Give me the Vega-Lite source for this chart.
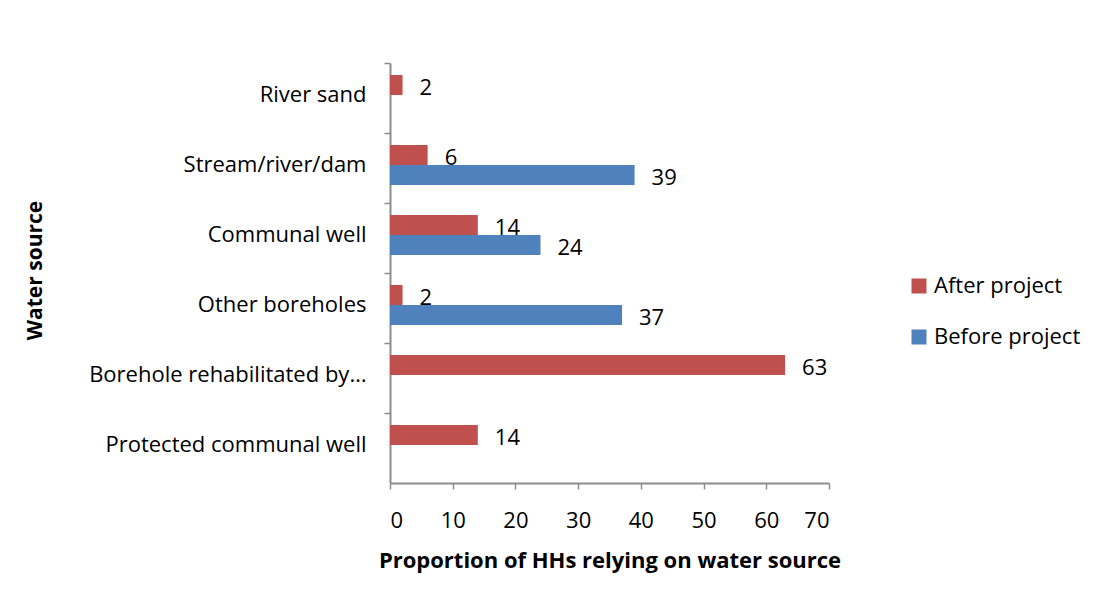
{
  "$schema": "https://vega.github.io/schema/vega-lite/v6.json",
  "autosize": {"type": "none"},
  "width": 439,
  "height": 420,
  "padding": {"left": 390, "top": 63, "right": 273, "bottom": 123},
  "background": "white",
  "config": {
    "font": "Open Sans",
    "view": {"stroke": null},
    "axis": {"labelFont": "Open Sans", "titleFont": "Open Sans", "labelColor": "black", "titleColor": "black", "domainColor": "#8c8c8c", "tickColor": "#8c8c8c", "grid": false, "labelLimit": 0}
  },
  "data": {
    "values": [
      {"source": "River sand", "period": "After project", "value": 2},
      {"source": "Stream/river/dam", "period": "After project", "value": 6},
      {"source": "Stream/river/dam", "period": "Before project", "value": 39},
      {"source": "Communal well", "period": "After project", "value": 14},
      {"source": "Communal well", "period": "Before project", "value": 24},
      {"source": "Other boreholes", "period": "After project", "value": 2},
      {"source": "Other boreholes", "period": "Before project", "value": 37},
      {"source": "Borehole rehabilitated by…", "period": "After project", "value": 63},
      {"source": "Protected communal well", "period": "After project", "value": 14}
    ]
  },
  "encoding": {
    "y": {
      "field": "source", "type": "nominal",
      "sort": ["River sand", "Stream/river/dam", "Communal well", "Other boreholes", "Borehole rehabilitated by…", "Protected communal well"],
      "scale": {"paddingInner": 0, "paddingOuter": 0},
      "axis": {"title": "Water source", "titleFontSize": 21, "titleFontWeight": "bold", "titleX": -355, "titleY": 207, "titleAngle": 270, "titleAlign": "center", "titleBaseline": "middle", "labelFontSize": 22, "labelPadding": 18, "tickSize": 6, "bandPosition": 0, "domainWidth": 2, "tickWidth": 1.5, "labelOffset": -3}
    },
    "yOffset": {
      "field": "period", "type": "nominal",
      "sort": ["After project", "Before project"],
      "scale": {"paddingInner": 0, "paddingOuter": 0.75, "align": 0.4}
    },
    "x": {
      "field": "value", "type": "quantitative",
      "scale": {"domain": [0, 70], "nice": false},
      "axis": {"title": "Proportion of HHs relying on water source", "values": [0, 10, 20, 30, 40, 50, 60, 70], "titleFontSize": 22, "titleFontWeight": "bold", "titlePadding": 19, "labelFontSize": 22, "labelPadding": 21, "tickSize": 6, "domainWidth": 2, "tickWidth": 1.5}
    }
  },
  "layer": [
    {
      "mark": {"type": "bar", "stroke": null},
      "encoding": {
        "color": {
          "field": "period", "type": "nominal",
          "scale": {"domain": ["After project", "Before project"], "range": ["#C0504D", "#4F81BD"]},
          "legend": {"title": null, "orient": "none", "legendX": 518, "legendY": 212, "symbolType": "square", "symbolSize": 225, "labelFontSize": 22, "labelOffset": 4, "rowPadding": 29, "symbolStrokeWidth": 0}
        }
      }
    },
    {
      "mark": {"type": "text", "align": "left", "dx": 17, "dy": 3, "fontSize": 22, "color": "black"},
      "encoding": {"text": {"field": "value", "type": "quantitative"}}
    }
  ]
}
